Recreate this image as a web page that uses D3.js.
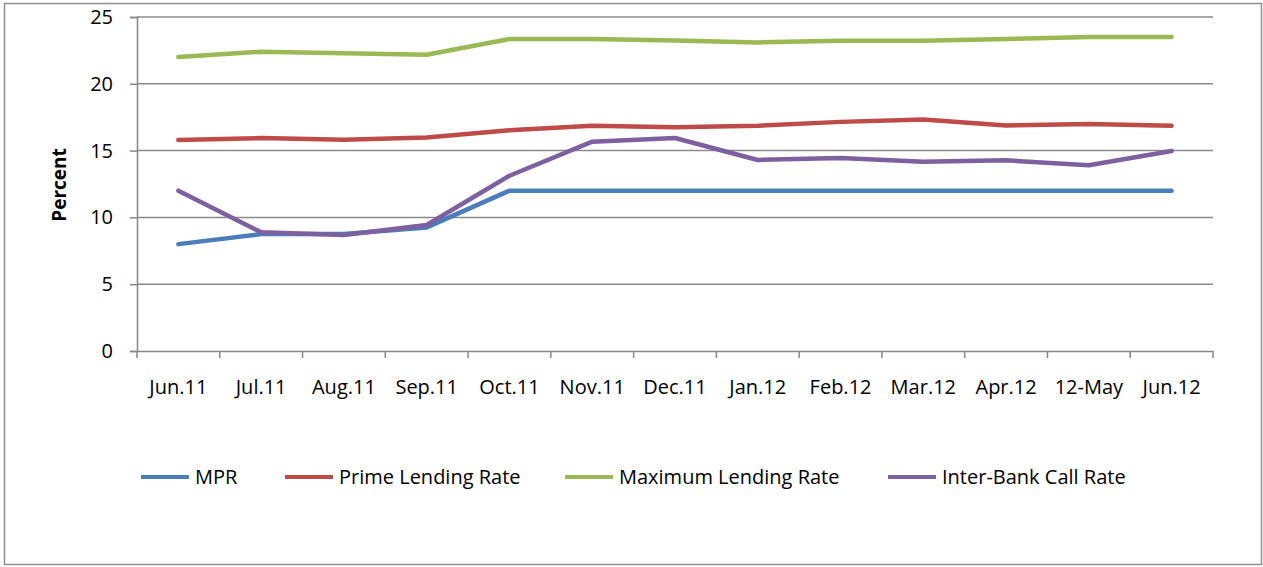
<!DOCTYPE html>
<html>
<head>
<meta charset="utf-8">
<script src="https://cdn.jsdelivr.net/npm/d3@7"></script>
<style>
  body { margin: 0; background: #fff; }
  text { font-family: "Open Sans", "Liberation Sans", sans-serif; fill: #000; }
</style>
</head>
<body>
<div id="chart"></div>
<script>
const months = ["Jun.11", "Jul.11", "Aug.11", "Sep.11", "Oct.11", "Nov.11", "Dec.11",
  "Jan.12", "Feb.12", "Mar.12", "Apr.12", "12-May", "Jun.12"];

const mpr = [8.0, 8.75, 8.75, 9.25, 12, 12, 12, 12, 12, 12, 12, 12, 12];
const primeLending = [15.8, 15.94, 15.82, 15.98, 16.52, 16.86, 16.75, 16.86, 17.15, 17.32, 16.88, 16.99, 16.86];
const maxLending = [22.0, 22.4, 22.28, 22.18, 23.35, 23.35, 23.25, 23.1, 23.23, 23.23, 23.35, 23.5, 23.5];
const interBank = [12.0, 8.88, 8.68, 9.43, 13.12, 15.67, 15.94, 14.3, 14.45, 14.17, 14.27, 13.9, 14.97];

const yTicks = [0, 5, 10, 15, 20, 25];

const seriesNames = ["MPR", "Prime Lending Rate", "Maximum Lending Rate", "Inter-Bank Call Rate"];
const seriesColors = ["#4a7ebb", "#be4b48", "#98b954", "#7d60a0"];
const seriesData = [mpr, primeLending, maxLending, interBank];

const W = 1263, H = 567;
const plotLeft = 137, plotRight = 1213, plotTop = 17, plotBottom = 351;

const svg = d3.select("#chart").append("svg")
  .attr("width", W)
  .attr("height", H);

// outer frame
svg.append("rect")
  .attr("x", 4.5).attr("y", 3.5)
  .attr("width", 1257).attr("height", 561)
  .attr("fill", "#fff")
  .attr("stroke", "#8e8e8e")
  .attr("stroke-width", 1.5);

let x = d3.scaleBand().domain(months).range([plotLeft, plotRight]);
let y = d3.scaleLinear().domain([0, 25]).range([plotBottom, plotTop]);

// gridlines
svg.append("g")
  .selectAll("line")
  .data(yTicks.filter(d => d > 0))
  .enter().append("line")
    .attr("x1", plotLeft).attr("x2", plotRight)
    .attr("y1", d => y(d)).attr("y2", d => y(d))
    .attr("stroke", "#8a8a8a")
    .attr("stroke-width", 1.5);

// y axis
let yAxis = svg.append("g")
  .attr("transform", "translate(" + plotLeft + ",0)")
  .call(d3.axisLeft(y).tickValues(yTicks).tickSize(7).tickPadding(17));
yAxis.select(".domain").attr("stroke", "#868686").attr("stroke-width", 1.5);
yAxis.selectAll(".tick line").attr("stroke", "#868686").attr("stroke-width", 1.5);
yAxis.selectAll(".tick text")
  .style("font-size", "20px")
  .style("font-family", "'Open Sans', sans-serif");

// x axis, ticks between categories
let xAxis = svg.append("g")
  .attr("transform", "translate(0," + plotBottom + ")")
  .call(d3.axisBottom(x).tickSize(0).tickPadding(29));
xAxis.select(".domain").attr("stroke", "#868686").attr("stroke-width", 1.5);
xAxis.selectAll(".tick text")
  .style("font-size", "20px")
  .style("font-family", "'Open Sans', sans-serif");

svg.append("g")
  .selectAll("line")
  .data(months.concat(["end"]))
  .enter().append("line")
    .attr("x1", (d, i) => plotLeft + i * x.bandwidth())
    .attr("x2", (d, i) => plotLeft + i * x.bandwidth())
    .attr("y1", plotBottom).attr("y2", plotBottom + 7)
    .attr("stroke", "#868686")
    .attr("stroke-width", 1.5);

// y title
svg.append("text")
  .attr("transform", "translate(66,185) rotate(-90)")
  .attr("text-anchor", "middle")
  .style("font-size", "19px")
  .style("font-weight", "bold")
  .text("Percent");

// lines
let line = d3.line()
  .x((d, i) => x(months[i]) + x.bandwidth() / 2)
  .y(d => y(d));

svg.append("g")
  .selectAll("path")
  .data(seriesData)
  .enter().append("path")
    .attr("d", d => line(d))
    .attr("fill", "none")
    .attr("stroke", (d, i) => seriesColors[i])
    .attr("stroke-width", 4.5)
    .attr("stroke-linecap", "round")
    .attr("stroke-linejoin", "round");

// legend
const legendX = [141, 285, 565, 888];
let legend = svg.append("g")
  .selectAll("g")
  .data(seriesNames)
  .enter().append("g")
    .attr("transform", (d, i) => "translate(" + legendX[i] + ",477)");
legend.append("line")
  .attr("x1", 0).attr("x2", 48)
  .attr("stroke", (d, i) => seriesColors[i])
  .attr("stroke-width", 4);
legend.append("text")
  .attr("x", 54)
  .attr("dy", "0.35em")
  .style("font-size", "20px")
  .text(d => d);
</script>
</body>
</html>
